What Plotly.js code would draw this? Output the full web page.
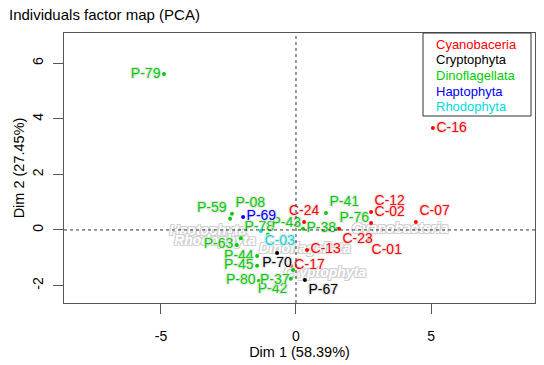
<!DOCTYPE html>
<html><head><meta charset="utf-8">
<script src="https://cdn.plot.ly/plotly-3.0.1.min.js"></script>
<style>html,body{margin:0;padding:0;background:#fff}#chart{width:544px;height:365px}</style>
</head><body><div id="chart"></div>
<script>
// ---- data ----
const groupNames  = ['Cyanobaceria','Cryptophyta','Dinoflagellata','Haptophyta','Rhodophyta'];
const groupColors = ['#FF0000','#000000','#00CD00','#0000FF','#00DDDD'];

const ids  = ['P-79','P-59','P-08','P-69','P-78','P-43','C-03','P-63','P-44','P-45','P-80','P-42','P-37','P-70','P-67','C-17','C-13','C-24','P-38','P-41','P-76','C-23','C-12','C-02','C-01','C-07','C-16'];
const grp  = ['Dinoflagellata','Dinoflagellata','Dinoflagellata','Haptophyta','Dinoflagellata','Dinoflagellata','Rhodophyta','Dinoflagellata','Dinoflagellata','Dinoflagellata','Dinoflagellata','Dinoflagellata','Dinoflagellata','Cryptophyta','Cryptophyta','Cyanobaceria','Cyanobaceria','Cyanobaceria','Dinoflagellata','Dinoflagellata','Dinoflagellata','Cyanobaceria','Cyanobaceria','Cyanobaceria','Cyanobaceria','Cyanobaceria','Cyanobaceria'];
const dim1 = [-4.89,-2.44,-2.37,-1.96,-2.04,-1.04,-1.30,-2.19,-1.44,-1.44,-1.37,-0.19,-0.11,-0.70,0.33,-0.19,0.41,0.30,0.26,1.11,1.48,1.59,2.78,2.78,2.67,4.44,5.07];
const dim2 = [5.61,0.40,0.58,0.47,-0.30,-0.16,-0.04,-0.54,-0.94,-1.29,-1.83,-1.76,-1.44,-0.83,-1.80,-1.29,-0.72,0.29,0.04,0.61,0.04,0.04,0.65,0.25,-0.36,0.29,3.67];
const labelPos = ['middle left','top left','top right','middle right','top right','top right','bottom right','middle left','middle left','middle left','middle left','bottom left','bottom left','bottom center','bottom right','middle right','middle right','top center','middle right','top right','top right','bottom right','top right','top right','bottom right','top right','middle right'];

// supplementary category labels (grey outlined)
const supLabels = ['Cyanobacteria','Haptophyta','Rhodophyta','Dinoflagellata','Cryptophyta'];
const supX = [3.85,-3.26,-3.00,0.33,1.07];
const supY = [0.00,-0.04,-0.40,-0.72,-1.58];

const xTicks = [-5,0,5];
const yTicks = [-2,0,2,4,6];
const xTitle = 'Dim 1 (58.39%)';
const yTitle = 'Dim 2 (27.45%)';
const chartTitle = 'Individuals factor map (PCA)';

// ---- traces ----
const FONT = 'Liberation Sans, Arial, sans-serif';
const traces = [];
traces.push({
  type:'scatter', mode:'text', x:supX, y:supY, text:supLabels,
  textposition:'middle center', hoverinfo:'skip', showlegend:false,
  textfont:{family:FONT, size:14, weight:'bold', style:'italic', color:'#ffffff',
    shadow:'1px 1px 0 #d0d0d0, -1px -1px 0 #d0d0d0, 1px -1px 0 #d0d0d0, -1px 1px 0 #d0d0d0'}
});
groupNames.forEach((g,gi)=>{
  const idx = ids.map((_,i)=>i).filter(i=>grp[i]===g);
  traces.push({
    type:'scatter', mode:'markers+text', name:g, showlegend:false,
    x:idx.map(i=>dim1[i]), y:idx.map(i=>dim2[i]), text:idx.map(i=>ids[i]),
    textposition:idx.map(i=>labelPos[i]),
    marker:{size:4, color:groupColors[gi]},
    textfont:{family:FONT, size:14, color:groupColors[gi],
      shadow:'1px 1px 1px #e4e4e4, -1px -1px 1px #e4e4e4, 1px -1px 1px #e4e4e4, -1px 1px 1px #e4e4e4'},
    cliponaxis:false
  });
});

// ---- layout ----
const L=64, R=535, T=33, B=303, W=544, H=365;
const px = v=>(v-L)/(R-L), py = v=>(B-v)/(B-T);
const shapes = [
  {type:'line', xref:'x', yref:'paper', x0:0, x1:0, y0:0, y1:1, line:{color:'#333', width:1, dash:'3px,3px'}},
  {type:'line', xref:'paper', yref:'y', x0:0, x1:1, y0:0, y1:0, line:{color:'#333', width:1, dash:'3px,3px'}},
  {type:'rect', xref:'paper', yref:'paper', x0:px(423), x1:px(531), y0:py(116), y1:1, line:{color:'#333', width:1}, fillcolor:'rgba(255,255,255,0)'}
];
const annotations = groupNames.map((g,i)=>({
  xref:'paper', yref:'paper', x:px(434), y:py(44+15.7*i), xanchor:'left', yanchor:'middle',
  text:g, showarrow:false, font:{family:FONT, size:13, color:groupColors[i]}
}));

const layout = {
  width:W, height:H, paper_bgcolor:'#fff', plot_bgcolor:'#fff',
  margin:{l:L, r:W-R, t:T, b:H-B, pad:0},
  title:{text:chartTitle, x:9/W, xanchor:'left', xref:'container', y:1-15/H, yanchor:'middle', yref:'container',
    font:{family:FONT, size:15, color:'#000'}},
  xaxis:{range:[-8.59,8.85], tickvals:xTicks, ticktext:xTicks.map(String), showgrid:false, zeroline:false,
    showline:true, mirror:true, linecolor:'#555', linewidth:1, ticks:'outside', ticklen:10, tickcolor:'#555',
    ticklabelstandoff:10, tickfont:{family:FONT, size:14, color:'#000'},
    title:{text:xTitle, font:{family:FONT, size:14.5, color:'#000'}, standoff:4}},
  yaxis:{range:[-2.63,7.09], tickvals:yTicks, ticktext:yTicks.map(String), showgrid:false, zeroline:false,
    showline:true, mirror:true, linecolor:'#555', linewidth:1, ticks:'outside', ticklen:10, tickcolor:'#555',
    ticklabelstandoff:4, tickangle:-90, tickfont:{family:FONT, size:14, color:'#000'},
    title:{text:yTitle, font:{family:FONT, size:14.5, color:'#000'}, standoff:2}},
  shapes, annotations, showlegend:false
};
Plotly.newPlot('chart', traces, layout, {staticPlot:true, displayModeBar:false});
</script></body></html>
